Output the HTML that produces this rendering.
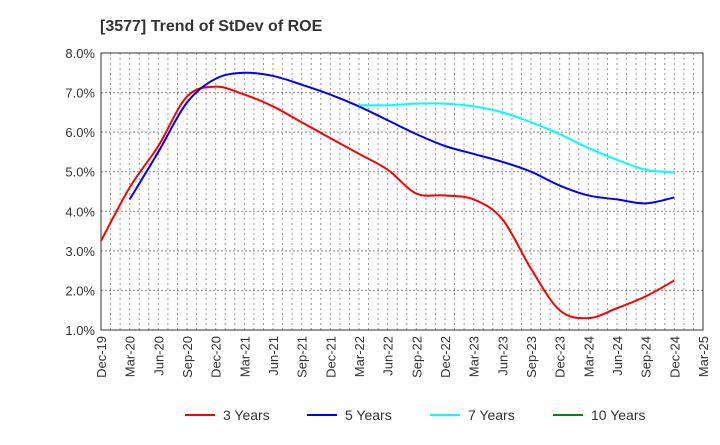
<!DOCTYPE html>
<html><head><meta charset="utf-8"><style>body{margin:0;background:#fff}svg{font-family:"Liberation Sans",sans-serif}</style></head><body>
<svg id="c" width="720" height="440">
<text x="100" y="31" font-size="16" font-weight="bold" fill="#333">[3577]  Trend of StDev of ROE</text>
<g id="grid"></g><g id="axes"></g><g id="series"></g><g id="legend"></g>
</svg>
<script>
const xLabels=["Dec-19","Mar-20","Jun-20","Sep-20","Dec-20","Mar-21","Jun-21","Sep-21","Dec-21","Mar-22","Jun-22","Sep-22","Dec-22","Mar-23","Jun-23","Sep-23","Dec-23","Mar-24","Jun-24","Sep-24","Dec-24","Mar-25"];
const yTicks=[1,2,3,4,5,6,7,8];
const s3=[3.25,4.6,5.65,6.9,7.15,6.95,6.65,6.25,5.85,5.45,5.05,4.45,4.4,4.3,3.8,2.55,1.5,1.3,1.55,1.85,2.25];
const s5=[null,4.3,5.5,6.75,7.35,7.5,7.42,7.2,6.95,6.65,6.3,5.95,5.65,5.45,5.25,5.0,4.65,4.4,4.3,4.2,4.35];
const s7=[null,null,null,null,null,null,null,null,null,6.68,6.68,6.72,6.72,6.65,6.5,6.25,5.95,5.6,5.3,5.05,4.98];
const s10=[];
const names=["3 Years","5 Years","7 Years","10 Years"],colors=["#f00","#00f","#0ff","#080"];
const L=101,R=703,T=53,B=330,NS="http://www.w3.org/2000/svg";
const xm=m=>L+(R-L)*m/63, xq=i=>xm(i*3), y=v=>B-(v-1)*(B-T)/7;
function el(t,a,p){const e=document.createElementNS(NS,t);for(const k in a)e.setAttribute(k,a[k]);document.getElementById(p).appendChild(e);return e;}
for(let m=1;m<63;m++){const g=el("line",{x1:xm(m),x2:xm(m),y1:T,y2:B,stroke:"#999","stroke-dasharray":"2,3"},"grid");

}
yTicks.forEach(v=>{const g=el("line",{x1:L,x2:R,y1:y(v),y2:y(v),stroke:"#888","stroke-dasharray":"2,2"},"grid");


const t=el("text",{x:L-6,y:y(v)+5,"text-anchor":"end","font-size":"13",fill:"#333"},"axes");t.textContent=v.toFixed(1)+"%";

});
const fr=el("rect",{x:L,y:T,width:R-L,height:B-T,fill:"none",stroke:"#333"},"axes");


xLabels.forEach((s,i)=>{const x=xq(i);const t=el("text",{x:x+5,y:B+6,"text-anchor":"end","font-size":"13",fill:"#333",transform:`rotate(-90 ${x+5} ${B+6})`},"axes");t.textContent=s;

});
[s3,s5,s7,s10].forEach((s,k)=>{const pts=[];s.forEach((v,i)=>{if(v!=null)pts.push([xq(i),y(v)]);});if(pts.length<2)return;
let d="M"+pts[0];for(let i=0;i<pts.length-1;i++){const p0=pts[i-1]||pts[i],p1=pts[i],p2=pts[i+1],p3=pts[i+2]||p2;
d+=`C${p1[0]+(p2[0]-p0[0])/6},${p1[1]+(p2[1]-p0[1])/6} ${p2[0]-(p3[0]-p1[0])/6},${p2[1]-(p3[1]-p1[1])/6} ${p2[0]},${p2[1]}`;}
const p=el("path",{d,fill:"none",stroke:colors[k],"stroke-width":2},"series");

});
const lx=[185,307,430,553];
names.forEach((n,k)=>{const l=el("line",{x1:lx[k],x2:lx[k]+30,y1:415,y2:415,stroke:colors[k],"stroke-width":2},"legend");


const t=el("text",{x:lx[k]+38,y:420,"font-size":"14",fill:"#333"},"legend");t.textContent=n;

});
</script>
</body></html>
